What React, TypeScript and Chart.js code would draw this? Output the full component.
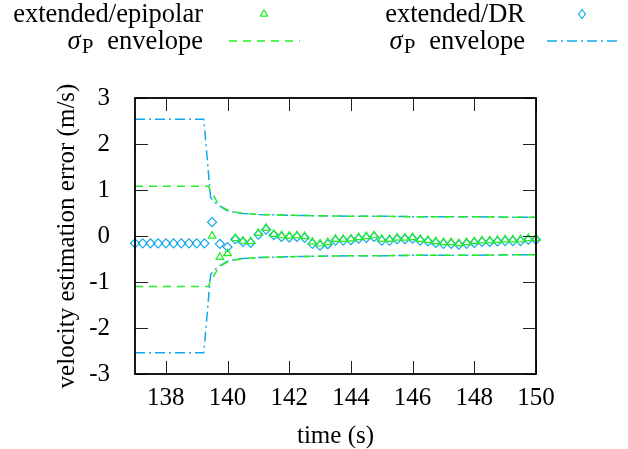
import React, { useEffect, useRef } from 'react';
import { Chart, registerables } from 'chart.js';

Chart.register(...registerables);

const FONT = "'Liberation Serif', 'Times New Roman', serif";
const GREEN = '#22ee22';
const BLUE = '#14a8ea';

// tick labels
const xTickValues = [138, 140, 142, 144, 146, 148, 150];
const yTickValues = [-3, -2, -1, 0, 1, 2, 3];

// extended/DR samples
const drTime = [137, 137.25, 137.5, 137.75, 138, 138.25, 138.5, 138.75, 139, 139.25, 139.5, 139.75, 140, 140.25, 140.5, 140.75, 141, 141.25, 141.5, 141.75, 142, 142.25, 142.5, 142.75, 143, 143.25, 143.5, 143.75, 144, 144.25, 144.5, 144.75, 145, 145.25, 145.5, 145.75, 146, 146.25, 146.5, 146.75, 147, 147.25, 147.5, 147.75, 148, 148.25, 148.5, 148.75, 149, 149.25, 149.5, 149.75, 150];
const drValue = [-0.16, -0.16, -0.16, -0.16, -0.16, -0.16, -0.16, -0.16, -0.16, -0.16, 0.30, -0.17, -0.24, -0.07, -0.13, -0.15, 0.03, 0.14, 0.02, -0.02, -0.03, -0.02, -0.04, -0.17, -0.21, -0.18, -0.10, -0.10, -0.09, -0.06, -0.04, -0.02, -0.10, -0.10, -0.07, -0.07, -0.06, -0.10, -0.12, -0.15, -0.17, -0.17, -0.19, -0.17, -0.15, -0.13, -0.13, -0.12, -0.11, -0.11, -0.11, -0.08, -0.08];

// extended/epipolar samples
const epiTime = [139.5, 139.75, 140, 140.25, 140.5, 140.75, 141, 141.25, 141.5, 141.75, 142, 142.25, 142.5, 142.75, 143, 143.25, 143.5, 143.75, 144, 144.25, 144.5, 144.75, 145, 145.25, 145.5, 145.75, 146, 146.25, 146.5, 146.75, 147, 147.25, 147.5, 147.75, 148, 148.25, 148.5, 148.75, 149, 149.25, 149.5, 149.75, 150];
const epiValue = [0.00, -0.46, -0.38, -0.05, -0.11, -0.12, 0.06, 0.17, 0.04, 0.01, 0.00, 0.01, -0.01, -0.13, -0.17, -0.14, -0.07, -0.07, -0.06, -0.03, -0.01, 0.01, -0.07, -0.07, -0.04, -0.04, -0.03, -0.07, -0.09, -0.12, -0.14, -0.14, -0.16, -0.14, -0.12, -0.10, -0.10, -0.09, -0.08, -0.08, -0.08, -0.05, -0.05];

// sigma_P envelope, epipolar
const epiEnvTime = [137, 139.37, 139.5, 139.62, 139.75, 140, 140.25, 140.5, 141, 141.5, 142, 143, 144, 145, 146, 147, 148, 149, 150];
const epiEnvUpper = [1.08, 1.08, 0.93, 0.79, 0.66, 0.56, 0.52, 0.49, 0.47, 0.46, 0.45, 0.44, 0.43, 0.43, 0.42, 0.42, 0.42, 0.41, 0.41];
const epiEnvLower = [-1.10, -1.10, -0.93, -0.79, -0.66, -0.56, -0.52, -0.49, -0.47, -0.46, -0.45, -0.44, -0.43, -0.43, -0.42, -0.42, -0.42, -0.41, -0.41];

// sigma_P envelope, DR
const drEnvTime = [137, 139.23, 139.45, 139.55, 139.65, 139.75, 140, 140.25, 140.5, 141, 141.5, 142, 143, 144, 145, 146, 147, 148, 149, 150];
const drEnvUpper = [2.54, 2.54, 0.84, 0.76, 0.70, 0.65, 0.55, 0.51, 0.49, 0.47, 0.46, 0.45, 0.44, 0.43, 0.43, 0.42, 0.42, 0.42, 0.41, 0.41];
const drEnvLower = [-2.54, -2.54, -0.84, -0.76, -0.70, -0.65, -0.55, -0.51, -0.49, -0.47, -0.46, -0.45, -0.44, -0.43, -0.43, -0.42, -0.42, -0.42, -0.41, -0.41];

const zip = (xs: number[], ys: number[]) => xs.map((x, i) => ({ x, y: ys[i] }));

const DASH_EPI = [8, 6];
const DASH_DR = [10, 4, 2, 4];
const LEGEND_SIZE = 26.5;

function drawSigmaLabel(ctx: CanvasRenderingContext2D, right: number, base: number) {
  ctx.textAlign = 'left';
  ctx.textBaseline = 'alphabetic';
  ctx.font = `${LEGEND_SIZE}px ${FONT}`;
  const env = 'envelope';
  const wEnv = ctx.measureText(env).width;
  let x = right - wEnv;
  ctx.fillText(env, x, base);
  x -= 14;
  ctx.font = `21px ${FONT}`;
  const wP = ctx.measureText('P').width;
  x -= wP;
  ctx.fillText('P', x, base + 4);
  ctx.font = `italic ${LEGEND_SIZE}px ${FONT}`;
  const wS = ctx.measureText('σ').width;
  x -= wS + 1;
  ctx.fillText('σ', x, base);
}

const legendPlugin = {
  id: 'gpLegend',
  afterDraw(chart: any) {
    const ctx: CanvasRenderingContext2D = chart.ctx;
    ctx.save();
    ctx.fillStyle = '#000';
    const row1 = 22;
    const row2 = 49;
    ctx.font = `${LEGEND_SIZE}px ${FONT}`;
    ctx.textAlign = 'right';
    ctx.textBaseline = 'alphabetic';
    ctx.fillText('extended/epipolar', 203, row1);
    ctx.fillText('extended/DR', 525, row1);
    drawSigmaLabel(ctx, 203, row2);
    drawSigmaLabel(ctx, 525, row2);

    // triangle sample
    ctx.lineWidth = 1.2;
    ctx.strokeStyle = GREEN;
    const tx = 264, ty = row1 - 8, r = 4.2;
    ctx.beginPath();
    ctx.moveTo(tx, ty - r);
    ctx.lineTo(tx + r * 0.866, ty + r / 2);
    ctx.lineTo(tx - r * 0.866, ty + r / 2);
    ctx.closePath();
    ctx.stroke();
    // diamond sample
    ctx.strokeStyle = BLUE;
    const dx = 582, dy = row1 - 8;
    ctx.beginPath();
    ctx.moveTo(dx, dy - 4.5);
    ctx.lineTo(dx + 3.5, dy);
    ctx.lineTo(dx, dy + 4.5);
    ctx.lineTo(dx - 3.5, dy);
    ctx.closePath();
    ctx.stroke();
    // line samples
    ctx.lineWidth = 1.5;
    ctx.strokeStyle = GREEN;
    ctx.setLineDash(DASH_EPI);
    ctx.beginPath();
    ctx.moveTo(229, row2 - 8);
    ctx.lineTo(300, row2 - 8);
    ctx.stroke();
    ctx.strokeStyle = BLUE;
    ctx.setLineDash(DASH_DR);
    ctx.beginPath();
    ctx.moveTo(547, row2 - 8);
    ctx.lineTo(618, row2 - 8);
    ctx.stroke();
    ctx.restore();
  },
};

const framePlugin = {
  id: 'gpFrame',
  afterDraw(chart: any) {
    const ctx: CanvasRenderingContext2D = chart.ctx;
    const a = chart.chartArea;
    const sx = chart.scales.x;
    const sy = chart.scales.y;
    const len = 13;
    ctx.save();
    ctx.strokeStyle = '#222';
    ctx.lineWidth = 1;
    ctx.beginPath();
    for (const t of sx.ticks) {
      const px = Math.round(sx.getPixelForValue(t.value)) + 0.5;
      ctx.moveTo(px, a.bottom);
      ctx.lineTo(px, a.bottom - len);
      ctx.moveTo(px, a.top);
      ctx.lineTo(px, a.top + len);
    }
    for (const t of sy.ticks) {
      const py = Math.round(sy.getPixelForValue(t.value)) + 0.5;
      ctx.moveTo(a.left, py);
      ctx.lineTo(a.left + len, py);
      ctx.moveTo(a.right, py);
      ctx.lineTo(a.right - len, py);
    }
    ctx.stroke();
    ctx.strokeStyle = '#000';
    ctx.lineWidth = 1.8;
    ctx.strokeRect(a.left, a.top, a.right - a.left, a.bottom - a.top);
    ctx.restore();
  },
};

export default function App() {
  const ref = useRef<HTMLCanvasElement | null>(null);
  useEffect(() => {
    if (!ref.current) return;
    const chart = new Chart(ref.current, {
      type: 'scatter',
      data: {
        datasets: [
          {
            label: 'extended/epipolar',
            data: zip(epiTime, epiValue),
            showLine: false,
            pointStyle: 'triangle',
            pointRadius: 4.4,
            pointBorderWidth: 1.2,
            borderColor: GREEN,
            backgroundColor: 'rgba(0,0,0,0)',
            clip: false,
          } as any,
          {
            label: 'extended/DR',
            data: zip(drTime, drValue),
            showLine: false,
            pointStyle: 'rectRot',
            pointRadius: 4.5,
            pointBorderWidth: 1.2,
            borderColor: BLUE,
            backgroundColor: 'rgba(0,0,0,0)',
            clip: false,
          } as any,
          {
            label: 'σP envelope (epipolar, upper)',
            data: zip(epiEnvTime, epiEnvUpper),
            showLine: true,
            pointRadius: 0,
            borderColor: GREEN,
            borderWidth: 1.5,
            borderDash: DASH_EPI,
            tension: 0,
          },
          {
            label: 'σP envelope (epipolar, lower)',
            data: zip(epiEnvTime, epiEnvLower),
            showLine: true,
            pointRadius: 0,
            borderColor: GREEN,
            borderWidth: 1.5,
            borderDash: DASH_EPI,
            tension: 0,
          },
          {
            label: 'σP envelope (DR, upper)',
            data: zip(drEnvTime, drEnvUpper),
            showLine: true,
            pointRadius: 0,
            borderColor: BLUE,
            borderWidth: 1.5,
            borderDash: DASH_DR,
            tension: 0,
          },
          {
            label: 'σP envelope (DR, lower)',
            data: zip(drEnvTime, drEnvLower),
            showLine: true,
            pointRadius: 0,
            borderColor: BLUE,
            borderWidth: 1.5,
            borderDash: DASH_DR,
            tension: 0,
          },
        ],
      },
      options: {
        animation: false,
        responsive: true,
        maintainAspectRatio: false,
        devicePixelRatio: 1,
        layout: { padding: { top: 98, right: 92, bottom: 0, left: 0 } },
        plugins: {
          legend: { display: false },
          tooltip: { enabled: false },
        },
        scales: {
          x: {
            type: 'linear',
            min: 137,
            max: 150,
            afterBuildTicks: (scale: any) => {
              scale.ticks = xTickValues.map((v) => ({ value: v }));
            },
            afterFit: (scale: any) => {
              scale.height = 75;
            },
            grid: { display: false, drawTicks: false },
            border: { display: false },
            ticks: {
              color: '#000',
              padding: 9,
              font: { family: FONT, size: 25 },
              maxRotation: 0,
              autoSkip: false,
              callback: (v: any) => String(v),
            },
            title: {
              display: true,
              text: 'time (s)',
              color: '#000',
              font: { family: FONT, size: 25, lineHeight: 1 },
              padding: { top: 0, bottom: 0 },
            },
          },
          y: {
            type: 'linear',
            min: -3,
            max: 3,
            afterBuildTicks: (scale: any) => {
              scale.ticks = yTickValues.map((v) => ({ value: v }));
            },
            afterFit: (scale: any) => {
              scale.width = 135;
            },
            grid: { display: false, drawTicks: false },
            border: { display: false },
            ticks: {
              color: '#000',
              padding: 25,
              font: { family: FONT, size: 25 },
              autoSkip: false,
              callback: (v: any) => String(v),
            },
            title: {
              display: true,
              text: 'velocity estimation error (m/s)',
              color: '#000',
              font: { family: FONT, size: 25, lineHeight: 1 },
              padding: { top: 55, bottom: 0 },
            },
          },
        },
      },
      plugins: [framePlugin, legendPlugin],
    });
    return () => chart.destroy();
  }, []);
  return (
    <div style={{ position: 'fixed', left: 0, top: 0, width: 628, height: 449, background: '#fff' }}>
      <canvas ref={ref} />
    </div>
  );
}
